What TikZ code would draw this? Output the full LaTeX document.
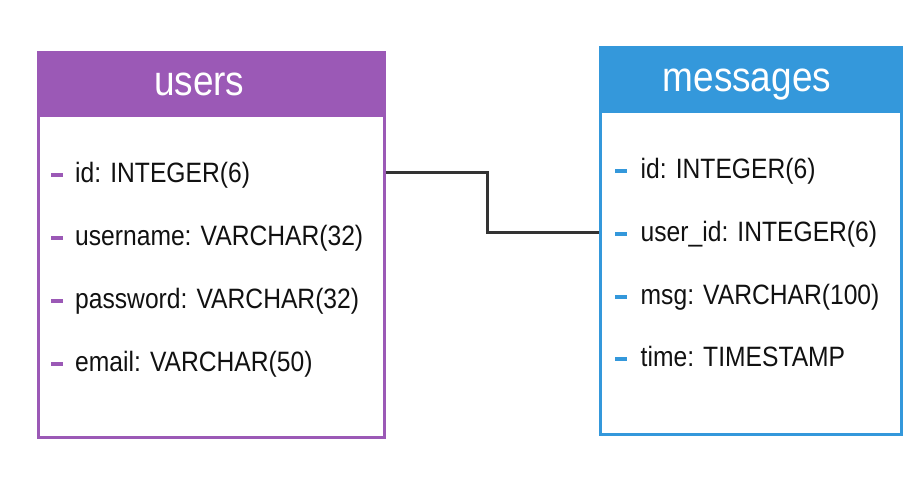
\documentclass[tikz,border=0pt]{standalone}
\usepackage{fontspec}
\setmainfont{Liberation Sans}[FakeStretch=0.88]
\usepackage{xcolor}
\definecolor{usrpurple}{RGB}{155,89,182}
\definecolor{msgblue}{RGB}{52,152,219}
\definecolor{linkgray}{RGB}{51,51,51}
\definecolor{fieldtext}{RGB}{17,17,17}

\begin{document}
\begin{tikzpicture}[x=1pt,y=1pt,yscale=-1,xscale=1,
  tablehead/.style={fill=#1,text=white,inner sep=0pt,outer sep=0pt,anchor=north west,
    font=\fontsize{42}{42}\selectfont,text height=22pt,text depth=0pt},
  tableframe/.style={draw=#1,line width=3pt,inner sep=0pt,outer sep=0pt,anchor=north west},
  fielddash/.style={fill=#1,minimum width=12pt,minimum height=4pt,inner sep=0pt,outer sep=0pt,anchor=west},
  fieldname/.style={text=fieldtext,inner sep=0pt,anchor=base west,font=\fontsize{28}{28}\selectfont},
  link/.style={draw=linkgray,line width=3pt}]
\useasboundingbox (0,0) rectangle (919,498);

%Shape: Rectangle [users header]
\node [tablehead=usrpurple,minimum width=345.5pt,minimum height=64pt] (usershead) at (38.5,52.5) {users\hspace*{24pt}};
%Shape: Rectangle [users frame]
\node [tableframe=usrpurple,minimum width=345.5pt,minimum height=384.5pt] (users) at (38.5,52.5) {};

%Shape: Rectangle [messages header]
\node [tablehead=msgblue,minimum width=300.8pt,minimum height=65pt] (msgshead) at (600.5,47.5) {messages\hspace*{8pt}};
%Shape: Rectangle [messages frame]
\node [tableframe=msgblue,minimum width=300.8pt,minimum height=386.5pt] (msgs) at (600.5,47.5) {};

% Text Node
\node [fielddash=usrpurple] (udash1) at (51,174.5) {};
\node [fieldname] (uid) at (75,182) {id: INTEGER(6)};
% Text Node
\node [fielddash=usrpurple] (udash2) at (51,237.5) {};
\node [fieldname] (uname) at (75,245) {username: VARCHAR(32)};
% Text Node
\node [fielddash=usrpurple] (udash3) at (51,300.5) {};
\node [fieldname] (upass) at (75,308) {password: VARCHAR(32)};
% Text Node
\node [fielddash=usrpurple] (udash4) at (51,363.5) {};
\node [fieldname] (umail) at (75,371) {email: VARCHAR(50)};

% Text Node
\node [fielddash=msgblue] (mdash1) at (615,171) {};
\node [fieldname] (mid) at (640.5,178.5) {id: INTEGER(6)};
% Text Node
\node [fielddash=msgblue] (mdash2) at (615,234) {};
\node [fieldname] (muid) at (640.5,241.5) {user\_id: INTEGER(6)};
% Text Node
\node [fielddash=msgblue] (mdash3) at (615,297) {};
\node [fieldname] (mmsg) at (640.5,304.5) {msg: VARCHAR(100)};
% Text Node
\node [fielddash=msgblue] (mdash4) at (615,359) {};
\node [fieldname] (mtime) at (640.5,366.5) {time: TIMESTAMP};

%Straight Lines [users.id -- messages.user_id]
\coordinate (uidpin) at ([yshift=-9.3pt]uid.base);
\coordinate (muidpin) at ([yshift=-9.3pt]muid.base);
\draw [link] ([xshift=1.5pt]users.east |- uidpin) -- ++(102.3,0) |- ([xshift=-1.5pt]msgs.west |- muidpin);
\end{tikzpicture}
\end{document}
